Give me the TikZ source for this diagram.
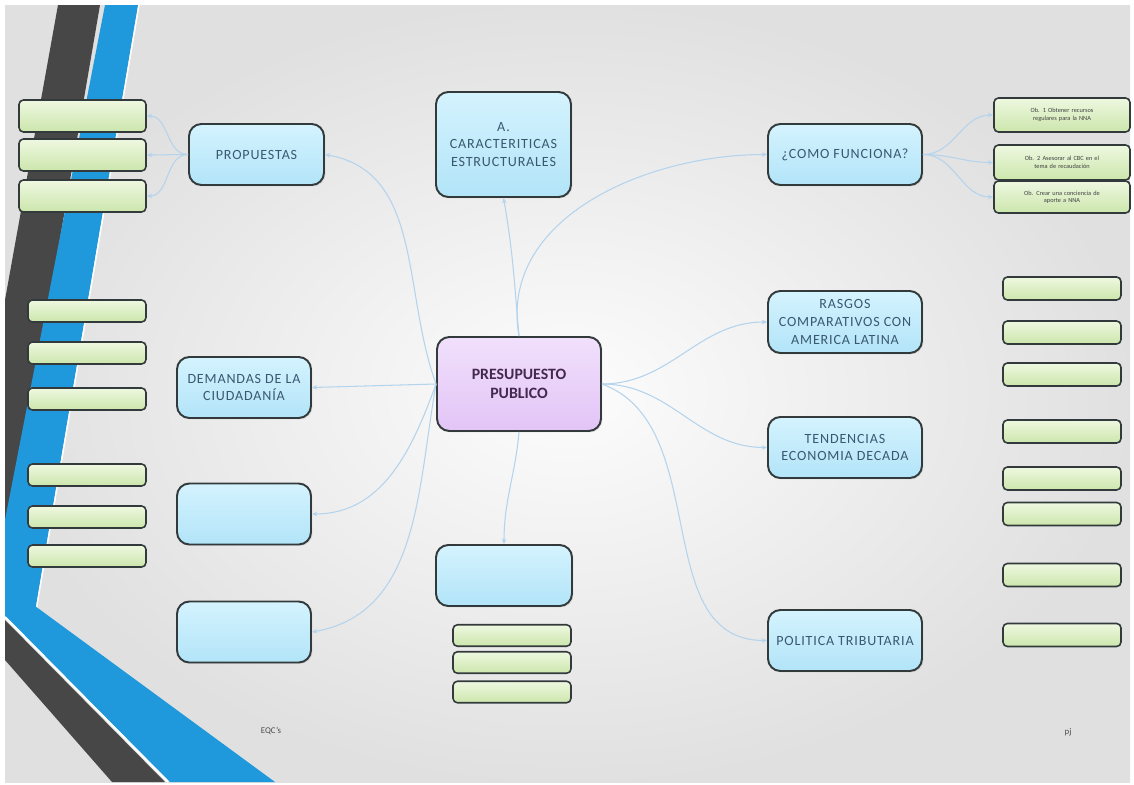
\documentclass[tikz,border=0pt]{standalone}
\usepackage{fontspec}
\setmainfont{Carlito}
\newfontfamily\boxfont[LetterSpace=6]{Carlito}
\usetikzlibrary{arrows.meta,shadows}
\definecolor{slate}{HTML}{3A5870}
\definecolor{plum}{HTML}{45284F}
\definecolor{blueT}{HTML}{D4F3FE}
\definecolor{blueB}{HTML}{B2E4F8}
\definecolor{lilaT}{HTML}{F1E0FC}
\definecolor{lilaB}{HTML}{E2C4F6}
\definecolor{greenT}{HTML}{EEF8E0}
\definecolor{greenB}{HTML}{CCE6AC}
\definecolor{edge}{HTML}{333A3C}
\definecolor{linkblue}{HTML}{B4D3EC}
\definecolor{stripedark}{HTML}{474747}
\definecolor{stripeblue}{HTML}{1F98DC}

\begin{document}
\begin{tikzpicture}[x=0.02cm,y=-0.02cm,>=Stealth,font=\boxfont\fontsize{8}{10}\selectfont,
  bbox/.style={draw=edge,line width=1.1pt,rounded corners=7pt,top color=blueT,bottom color=blueB,
    text=slate,align=center,inner sep=2pt,
    drop shadow={opacity=0.18,shadow xshift=0.8pt,shadow yshift=-0.8pt}},
  gbox/.style={draw=edge,line width=0.9pt,rounded corners=2.5pt,top color=greenT,bottom color=greenB,
    inner sep=0pt,align=center,text=black!75,font=\fontsize{3.6}{4.2}\selectfont},
  conn/.style={->,draw=linkblue,line width=0.6pt,>={Stealth[length=3pt,width=2.6pt]}}]
  % slide
  \useasboundingbox (0,0) rectangle (1134,785);
  \fill[white] (0,0) rectangle (1134,785);
  \shade[inner color=gray!2,outer color=gray!24] (5,5) rectangle (1130,782);
  % stripes on the left and at the bottom
  \fill[stripedark] (58,5) -- (100,5) -- (5,560) -- (5,300) -- cycle;
  \fill[stripeblue] (105,5) -- (138,5) -- (35,612) -- (5,612) -- (5,520) -- cycle;
  \draw[white,line width=0.8pt] (139,5) -- (36,611);
  \fill[stripeblue] (5,598) -- (35,606) -- (275,782) -- (170,782) -- (5,616) -- cycle;
  \draw[white,line width=1.2pt] (5,617) -- (168,782);
  \fill[stripedark] (5,620) -- (165,782) -- (112,782) -- (5,660) -- cycle;

  % main topics
  \node[bbox,minimum width=3.28cm,minimum height=1.88cm,top color=lilaT,bottom color=lilaB,
        text=plum,font=\fontsize{9}{10.5}\selectfont\bfseries] (cen) at (519,384)
       {PRESUPUESTO\\PUBLICO};
  \node[bbox,minimum width=2.7cm,minimum height=2.1cm] (carac) at (503.5,144.5)
       {A.\\CARACTERITICAS\\ESTRUCTURALES};
  \node[bbox,minimum width=2.7cm,minimum height=1.22cm] (prop) at (256.5,154.5) {PROPUESTAS};
  \node[bbox,minimum width=2.68cm,minimum height=1.22cm] (dem) at (244,387.5)
       {DEMANDAS DE LA\\CIUDADAN\'IA};
  \node[bbox,minimum width=2.68cm,minimum height=1.22cm] (vacA) at (244,514) {};
  \node[bbox,minimum width=2.68cm,minimum height=1.22cm] (vacB) at (244,632) {};
  \node[bbox,minimum width=2.72cm,minimum height=1.22cm] (vacC) at (504,575.5) {};
  \node[bbox,minimum width=3.08cm,minimum height=1.22cm] (como) at (845,154.5) {¿COMO FUNCIONA?};
  \node[bbox,minimum width=3.08cm,minimum height=1.24cm] (rasgos) at (845,322)
       {RASGOS\\COMPARATIVOS CON\\AMERICA LATINA};
  \node[bbox,minimum width=3.08cm,minimum height=1.22cm] (tend) at (845,447.5)
       {TENDENCIAS\\ECONOMIA DECADA};
  \node[bbox,minimum width=3.08cm,minimum height=1.22cm] (pol) at (845,640.5) {POLITICA TRIBUTARIA};

  % small boxes
  \foreach \i/\yy in {1/116,2/155,3/196}
    \node[gbox,minimum width=2.54cm,minimum height=0.64cm] (l\i) at (82.5,\yy) {};
  \foreach \i/\yy in {4/311,5/353,6/399,7/475,8/517,9/556}
    \node[gbox,minimum width=2.36cm,minimum height=0.44cm] (l\i) at (87,\yy) {};
  \foreach \i/\yy in {1/635.5,2/662.5,3/692}
    \node[gbox,minimum width=2.36cm,minimum height=0.43cm] (b\i) at (512,\yy) {};
  \foreach \i/\yy in {4/288.5,5/332.5,6/374.5,7/431.5,8/478.5,9/514,10/575,11/635}
    \node[gbox,minimum width=2.36cm,minimum height=0.46cm] (r\i) at (1062,\yy) {};
  \node[gbox,minimum width=2.72cm,minimum height=0.68cm,text width=2.4cm] (r1) at (1062,115)
       {Ob. 1 Obtener recursos\\regulares para la NNA};
  \node[gbox,minimum width=2.72cm,minimum height=0.7cm,text width=2.4cm] (r2) at (1062,162.5)
       {Ob. 2 Asesorar al CBC en el\\tema de recaudaci\'on};
  \node[gbox,minimum width=2.72cm,minimum height=0.64cm,text width=2.4cm] (r3) at (1062,197)
       {Ob. Crear una conciencia de\\aporte a NNA};

  % links from the centre
  \draw[conn] (cen.north) to[out=95,in=-80] (carac.south);
  \draw[conn] (cen.north) to[out=100,in=180] (como.west);
  \draw[conn] (cen.east) to[out=0,in=180] (rasgos.west);
  \draw[conn] (cen.east) to[out=0,in=180] (tend.west);
  \draw[conn] (cen.east) to[out=-20,in=180] (pol.west);
  \draw[conn] (cen.south) to[out=-95,in=90] (vacC.north);
  \draw[conn] (cen.west) to[out=110,in=-10] (prop.east);
  \draw[conn] (cen.west) -- (dem.east);
  \draw[conn] (cen.west) to[out=-110,in=0] (vacA.east);
  \draw[conn] (cen.west) to[out=-100,in=10] (vacB.east);
  % links to the small boxes
  \foreach \i in {1,2,3}{
    \draw[conn] (prop.west) to[out=180,in=0] (l\i.east);
    \draw[conn] (como.east) to[out=0,in=180] (r\i.west);
  }

  % footers
  \node[font=\fontsize{5}{6}\selectfont,text=black!70] (eqc) at (271,731) {EQC's};
  \node[font=\fontsize{5}{6}\selectfont,text=black!70] (pj) at (1068,732) {pj};
\end{tikzpicture}
\end{document}
